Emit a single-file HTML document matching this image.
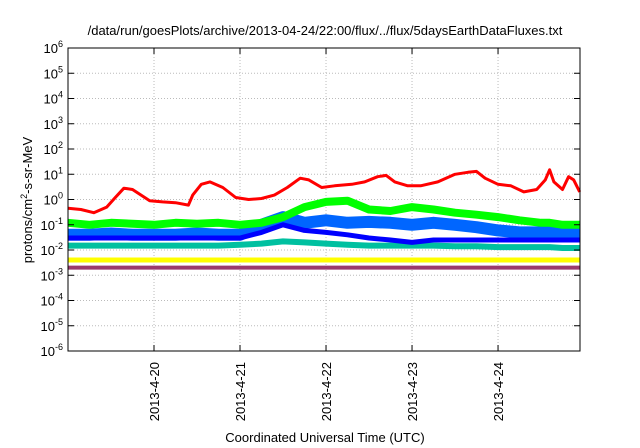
<!DOCTYPE html>
<html><head><meta charset="utf-8"><style>
body{margin:0;background:#fff;}
svg{display:block;font-family:"Liberation Sans",sans-serif;}
</style></head><body>
<svg id="chart" width="640" height="448" viewBox="0 0 640 448">
<text x="325" y="35" font-size="13" text-anchor="middle" fill="#000">/data/run/goesPlots/archive/2013-04-24/22:00/flux/../flux/5daysEarthDataFluxes.txt</text>
<text x="325" y="442" font-size="13" text-anchor="middle" fill="#000">Coordinated Universal Time (UTC)</text>
<text transform="translate(32,200) rotate(-90)" font-size="13" text-anchor="middle" fill="#000">protons/cm<tspan dy="-5" font-size="9">2</tspan><tspan dy="5">-s-sr-MeV</tspan></text>
<g id="grid"></g><g id="series"></g><g id="axes"></g>
</svg>
<script>
const dayLabels=["2013-4-20","2013-4-21","2013-4-22","2013-4-23","2013-4-24"];
const yExps=[-6,-5,-4,-3,-2,-1,0,1,2,3,4,5,6];
const times=[0,0.25,0.5,0.75,1,1.25,1.5,1.75,2,2.25,2.5,2.75,3,3.25,3.5,3.75,4,4.25,4.5,4.75,5,5.25,5.5,5.6,5.75,5.85,5.95];
const redTimes=[0,0.15,0.3,0.45,0.55,0.65,0.75,0.85,0.95,1.1,1.25,1.4,1.45,1.55,1.65,1.8,1.95,2.1,2.25,2.4,2.55,2.7,2.8,2.95,3.1,3.3,3.45,3.6,3.7,3.8,3.95,4.1,4.3,4.5,4.65,4.75,4.85,5.0,5.15,5.3,5.45,5.55,5.6,5.65,5.75,5.82,5.88,5.95];
const red=[0.45,0.4,0.3,0.5,1.2,2.8,2.5,1.5,0.9,0.8,0.75,0.6,1.5,4,5,3,1.2,1.0,1.1,1.5,3,7,6,3,3.5,4,5,8,9,5,3.5,3.5,5,10,12,13,7,4,3.5,2,2.5,6,15,5,2.5,8,6,2];
const green=[0.12,0.1,0.12,0.11,0.1,0.12,0.11,0.12,0.1,0.12,0.2,0.5,0.8,0.9,0.4,0.35,0.5,0.4,0.3,0.25,0.2,0.15,0.12,0.12,0.1,0.1,0.1];
const lightBlue=[0.04,0.04,0.045,0.04,0.04,0.04,0.045,0.04,0.04,0.1,0.2,0.12,0.15,0.12,0.13,0.12,0.1,0.12,0.1,0.08,0.06,0.05,0.05,0.05,0.05,0.05,0.05];
const blue=[0.03,0.03,0.03,0.03,0.03,0.03,0.03,0.03,0.03,0.05,0.1,0.06,0.05,0.04,0.03,0.025,0.02,0.025,0.025,0.025,0.025,0.025,0.025,0.025,0.025,0.025,0.025];
const teal=[0.015,0.015,0.015,0.015,0.015,0.015,0.015,0.015,0.016,0.018,0.022,0.02,0.018,0.016,0.015,0.015,0.015,0.015,0.014,0.014,0.013,0.013,0.013,0.013,0.012,0.012,0.012];
const yellow=[0.004,0.004,0.004,0.004,0.004,0.004,0.004,0.004,0.004,0.004,0.004,0.004,0.004,0.004,0.004,0.004,0.004,0.004,0.004,0.004,0.004,0.004,0.004,0.004,0.004,0.004,0.004];
const purple=[0.002,0.002,0.002,0.002,0.002,0.002,0.002,0.002,0.002,0.002,0.002,0.002,0.002,0.002,0.002,0.002,0.002,0.002,0.002,0.002,0.002,0.002,0.002,0.002,0.002,0.002,0.002];
const L=68,R=580,T=48,B=351,NS="http://www.w3.org/2000/svg";
const xs=d=>L+d*(R-L)/5.953;
const ys=v=>B-(Math.log10(v)+6)*(B-T)/12;
function mk(tag,attrs,parent){const e=document.createElementNS(NS,tag);for(const k in attrs)e.setAttribute(k,attrs[k]);parent.appendChild(e);return e;}
const grid=document.getElementById('grid'),axes=document.getElementById('axes'),ser=document.getElementById('series');
yExps.forEach(p=>{const y=ys(Math.pow(10,p));
 if(p>-6&&p<6){const g=mk('line',{x1:L,x2:R,y1:y,y2:y,stroke:'#bbb','stroke-dasharray':'1,2'},grid);
 
 }
 mk('line',{x1:L,x2:L+6,y1:y,y2:y,stroke:'#000'},axes);mk('line',{x1:R,x2:R-6,y1:y,y2:y,stroke:'#000'},axes);
 const t=mk('text',{x:L-5,y:y+5,'font-size':'13','text-anchor':'end'},axes);
 
 
 t.innerHTML='10<tspan dy="-6" font-size="9">'+p+'</tspan>';});
dayLabels.forEach((lab,i)=>{const x=xs(i+1);
 const g=mk('line',{x1:x,x2:x,y1:T,y2:B,stroke:'#bbb','stroke-dasharray':'1,2'},grid);
 
 
 mk('line',{x1:x,x2:x,y1:B,y2:B-6,stroke:'#000'},axes);mk('line',{x1:x,x2:x,y1:T,y2:T+6,stroke:'#000'},axes);
 const t=mk('text',{transform:`translate(${x+5},362) rotate(-90)`,'font-size':'13','text-anchor':'end'},axes);
 
 
 t.textContent=lab;});
const box=mk('rect',{x:L,y:T,width:R-L,height:B-T,fill:'none',stroke:'#000','stroke-width':1},axes);


const list=[[purple,times,'#9a3a6c',4,'purple'],[yellow,times,'#ffff00',5,'yellow'],[teal,times,'#00c0a0',6,'teal'],[lightBlue,times,'#0066ff',12,'light-blue'],[blue,times,'#0000ff',5,'blue'],[green,times,'#00ff00',8,'green'],[red,redTimes,'#ff0000',3,'red']];
list.forEach(([arr,tt,c,w,n])=>{const pts=arr.map((v,i)=>xs(tt[i]).toFixed(1)+','+ys(v).toFixed(1)).join(' ');
 const p=mk('polyline',{points:pts,fill:'none',stroke:c,'stroke-width':w,'stroke-linejoin':'round'},ser);
 
 });
</script>
</body></html>
